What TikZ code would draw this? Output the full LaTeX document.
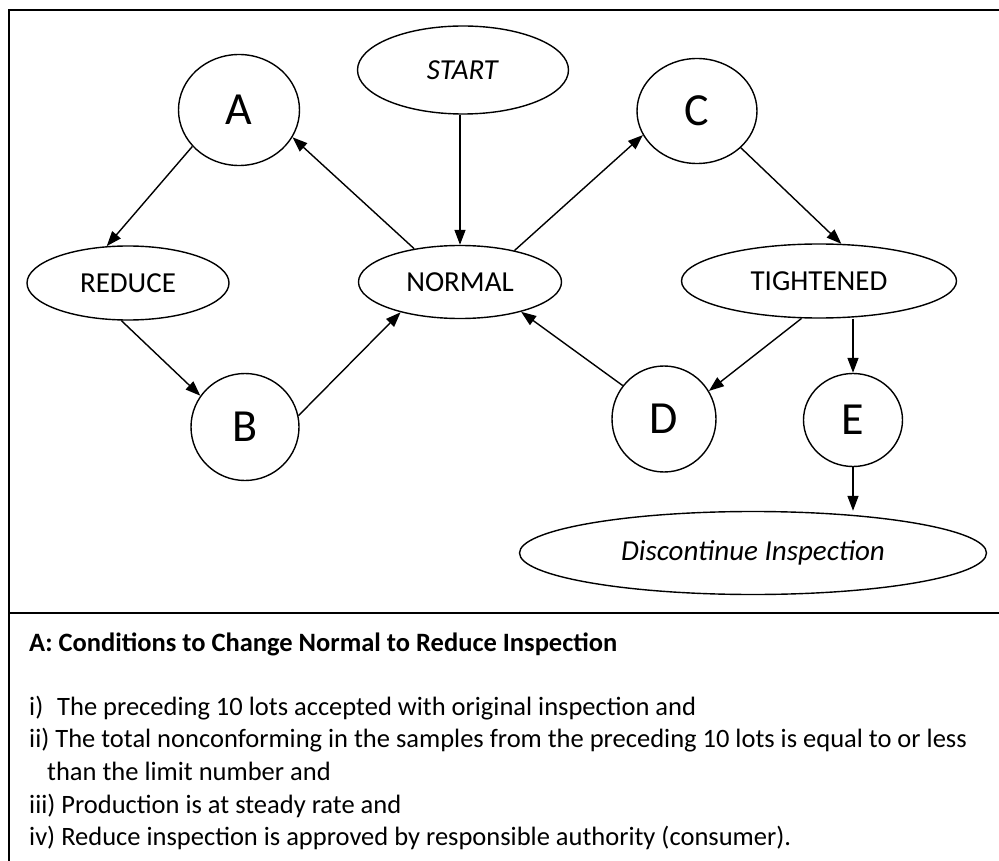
\documentclass[tikz,border=0pt]{standalone}
\usepackage{fontspec}
\setmainfont{Carlito}
\usetikzlibrary{shapes.geometric,arrows.meta}
\tikzset{
  oval/.style={ellipse,draw,line width=1.4pt,inner sep=0pt,font=\fontsize{29}{33}\selectfont},
  letter/.style={ellipse,draw,line width=1.4pt,inner sep=0pt,font=\fontsize{46}{50}\selectfont},
  conn/.style={line width=1.4pt,-{Triangle[length=15pt,width=11pt]}},
  frame/.style={line width=1.8pt},
  body/.style={anchor=base west,inner sep=0pt,font=\fontsize{26.5}{30}\selectfont}
}
\begin{document}
\begin{tikzpicture}[x=1pt,y=-1pt]
\useasboundingbox (0,0) rectangle (999,861);
\fill[white] (0,0) rectangle (999,861);
% frame
\draw[frame] (9,861) -- (9,10) -- (999,10);
\draw[frame] (9,613) -- (999,613);
% nodes
\node[oval,minimum width=211pt,minimum height=88pt] (start) at (463,70) {\textit{START}};
\node[letter,minimum width=121pt,minimum height=111pt] (nA) at (239,110) {A};
\node[letter,minimum width=120pt,minimum height=105pt] (nC) at (697,111) {C};
\node[oval,minimum width=202pt,minimum height=74pt] (reduce) at (128,283) {REDUCE};
\node[oval,minimum width=203pt,minimum height=73pt] (normal) at (460,282) {NORMAL};
\node[oval,minimum width=275pt,minimum height=74pt] (tight) at (819,281) {TIGHTENED};
\node[letter,minimum width=108pt,minimum height=107pt] (nB) at (245,427) {B};
\node[letter,minimum width=104pt,minimum height=106pt] (nD) at (664,419) {D};
\node[letter,minimum width=99pt,minimum height=93pt] (nE) at (853,420) {E};
\node[oval,minimum width=467pt,minimum height=83pt] (disc) at (753,553) {\textit{Discontinue Inspection}};
% connectors
\draw[conn] (start.south -| normal.north) -- (normal.north);
\draw[conn] (normal.144.5) -- (nA.333);
\draw[conn] (nA.218.4) -- (reduce.120);
\draw[conn] (reduce.260) -- (nB.145.7);
\draw[conn] (nB.12.5) -- (normal.207.3);
\draw[conn] (normal.30.5) -- (nC.204.4);
\draw[conn] (nC.320.2) -- (tight.59.3);
\draw[conn] (tight.245.3) -- (nD.32.1);
\draw[conn] (nD.141) -- (normal.334.5);
\draw[conn] (tight.south -| nE.north) -- (nE.north);
\draw[conn] (nE.south) -- (nE.south |- disc.north);
% text
\node[body] (title) at (29,651) {\bfseries A: Conditions to Change Normal to Reduce Inspection};
\node[body] (l1a) at (29,715) {i)};
\node[body] (l1b) at (57,715) {The preceding 10 lots accepted with original inspection and};
\node[body] (l2) at (29,747) {ii) The total nonconforming in the samples from the preceding 10 lots is equal to or less};
\node[body] (l2b) at (47,780) {than the limit number and};
\node[body] (l3) at (29,813) {iii) Production is at steady rate and};
\node[body] (l4) at (29,845) {iv) Reduce inspection is approved by responsible authority (consumer).};
\end{tikzpicture}
\end{document}
